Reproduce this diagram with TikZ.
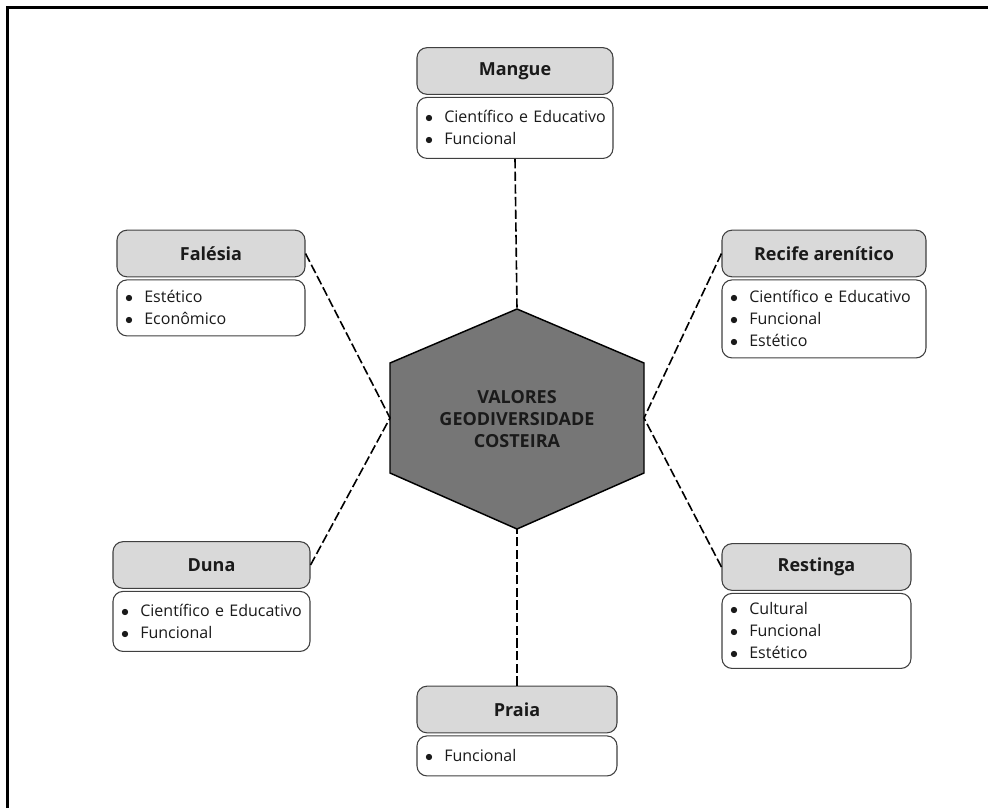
\documentclass[tikz,border=0pt]{standalone}
\usepackage{fontspec}
\setmainfont{Open Sans}
\usetikzlibrary{positioning}
\definecolor{cabeca}{HTML}{D9D9D9}
\definecolor{contorno}{HTML}{404040}
\definecolor{hexa}{HTML}{767676}
\definecolor{tinta}{HTML}{1A1A1A}
\newcommand{\pto}[1]{\mbox{\hspace{2pt}$\bullet$\hspace{8.5pt}#1}}

\begin{document}
\begin{tikzpicture}[x=0.75pt,y=-0.75pt,
  cab/.style={draw=contorno,fill=cabeca,rounded corners=7.5pt,line width=0.8pt,
    minimum height=35pt,text=tinta,font=\fontsize{13.5}{16}\selectfont\bfseries},
  lista/.style={draw=contorno,fill=white,rounded corners=7.5pt,line width=0.8pt,
    align=left,inner xsep=4pt,text=tinta,font=\fontsize{12}{16.5}\selectfont},
  liga/.style={line width=1.2pt,dash pattern=on 7pt off 2.5pt}]
  \useasboundingbox (0,0) rectangle (988,808);
  % moldura
  \draw[line width=1.6pt] (7.5,808) -- (7.5,7.5) -- (988,7.5);

  % hexagono central
  \coordinate (hT) at (517,309);
  \coordinate (hB) at (517,529);
  \coordinate (hL) at (390,418);
  \coordinate (hR) at (644,418);
  \fill[hexa] (517,309) -- (644,363) -- (644,473) -- (517,529) -- (390,473) -- (390,363) -- cycle;
  \draw[line width=1.1pt,line join=miter] (517,309) -- (644,363) -- (644,473) -- (517,529) -- (390,473) -- (390,363) -- cycle;
  \node[align=center,text=tinta,font=\fontsize{13.5}{16.5}\selectfont\bfseries] (hub) at (517,419)
    {VALORES\\GEODIVERSIDADE\\COSTEIRA};

  % Mangue
  \node[cab,minimum width=147pt] (mangue) at (515,71) {Mangue};
  \node[lista,below=1.5pt of mangue,minimum width=147pt,text width=139pt,minimum height=45.75pt] (mangueLista)
    {\pto{Científico e Educativo}\\\pto{Funcional}};

  % Falesia
  \node[cab,minimum width=141pt] (falesia) at (211,253.5) {Falésia};
  \node[lista,below=1.5pt of falesia,minimum width=141pt,text width=133pt,minimum height=42pt] (falesiaLista)
    {\pto{Estético}\\\pto{Econômico}};

  % Recife
  \node[cab,minimum width=153pt] (recife) at (824,253.5) {Recife arenítico};
  \node[lista,below=1.5pt of recife,minimum width=153pt,text width=145pt,minimum height=58.5pt] (recifeLista)
    {\pto{Científico e Educativo}\\\pto{Funcional}\\\pto{Estético}};

  % Duna
  \node[cab,minimum width=147.75pt] (duna) at (211.5,565) {Duna};
  \node[lista,below=1.5pt of duna,minimum width=147.75pt,text width=139.75pt,minimum height=45pt] (dunaLista)
    {\pto{Científico e Educativo}\\\pto{Funcional}};

  % Restinga
  \node[cab,minimum width=141.75pt] (restinga) at (816.5,567) {Restinga};
  \node[lista,below=1.5pt of restinga,minimum width=141.75pt,text width=133.75pt,minimum height=56.25pt] (restingaLista)
    {\pto{Cultural}\\\pto{Funcional}\\\pto{Estético}};

  % Praia
  \node[cab,minimum width=150pt] (praia) at (517,709.5) {Praia};
  \node[lista,below=1.5pt of praia,minimum width=150pt,text width=142pt,minimum height=30pt] (praiaLista)
    {\pto{Funcional}};

  % ligacoes
  \draw[liga] (mangueLista.south) -- (hT);
  \draw[liga] (falesia.east) -- (hL);
  \draw[liga] (duna.east) -- (hL);
  \draw[liga] (recife.west) -- (hR);
  \draw[liga] (restinga.west) -- (hR);
  \draw[liga] (praia.north) -- (hB);
\end{tikzpicture}
\end{document}
